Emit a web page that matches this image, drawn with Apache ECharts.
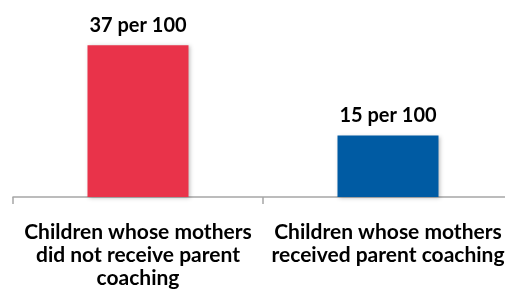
<!DOCTYPE html>
<html>
<head>
<meta charset="utf-8">
<script src="https://cdn.jsdelivr.net/npm/echarts@6/dist/echarts.min.js"></script>
<style>
  html, body { margin: 0; padding: 0; background: #fff; }
  #chart-box { width: 505px; height: 298px; }
</style>
</head>
<body>
<div id="chart-box"></div>
<script>
// categories and values
var categories = [
  'Children whose mothers\ndid not receive parent\ncoaching',
  'Children whose mothers\nreceived parent coaching'
];
var values = [37, 15];
var valueLabels = ['37 per 100', '15 per 100'];
var barColors = ['#E9334A', '#005BA3'];

var myChart = echarts.init(document.getElementById('chart-box'));

var option = {
  animation: false,
  grid: {
    left: 13,
    width: 500,
    top: 33,
    bottom: 101,
    containLabel: false,
    outerBoundsMode: 'none'
  },
  xAxis: {
    type: 'category',
    data: categories,
    axisLine: { lineStyle: { color: '#a6a6a6', width: 1.5 } },
    axisTick: { show: true, length: 7, lineStyle: { color: '#a6a6a6', width: 1.5 } },
    axisLabel: {
      interval: 0,
      margin: 24,
      color: '#000',
      fontFamily: 'Lato',
      fontWeight: 'bold',
      fontSize: 21,
      lineHeight: 23
    }
  },
  yAxis: {
    type: 'value',
    min: 0,
    max: 40,
    show: false,
    splitLine: { show: false }
  },
  series: [{
    type: 'bar',
    barWidth: 101,
    data: values.map(function (v, i) {
      return {
        value: v,
        itemStyle: { color: barColors[i] },
        label: { formatter: valueLabels[i] }
      };
    }),
    itemStyle: {
      shadowColor: 'rgba(0,0,0,0.25)',
      shadowBlur: 4,
      shadowOffsetX: 1,
      shadowOffsetY: 1
    },
    label: {
      show: true,
      position: 'top',
      distance: 10,
      color: '#000',
      fontFamily: 'Lato',
      fontWeight: 'bold',
      fontSize: 20
    }
  }]
};

myChart.setOption(option);
</script>
</body>
</html>
